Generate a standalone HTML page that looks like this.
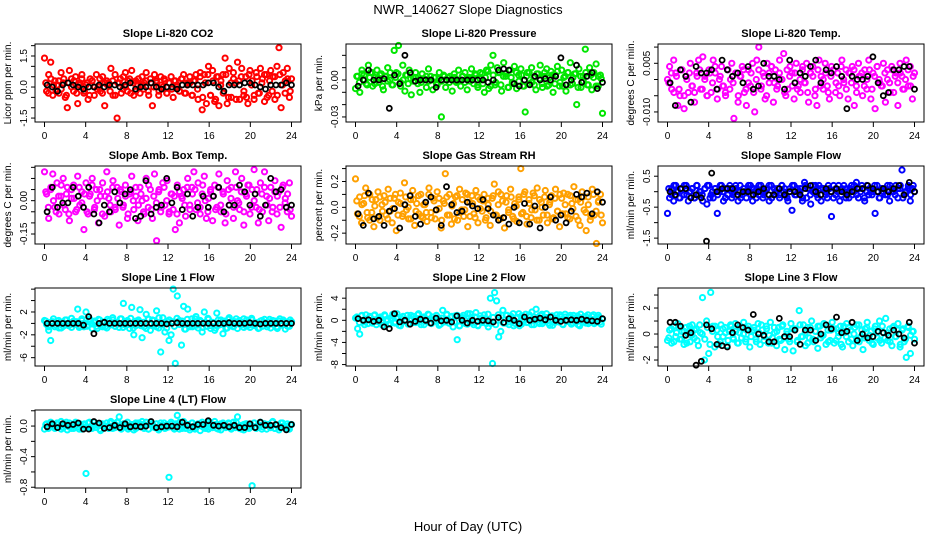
<!DOCTYPE html>
<html><head><meta charset="utf-8"><title>NWR_140627 Slope Diagnostics</title>
<style>
html,body{margin:0;padding:0;background:#fff;}
svg{display:block;font-family:"Liberation Sans",Arial,sans-serif;}
</style></head>
<body>
<svg id="chart" width="936" height="540" viewBox="0 0 936 540" xmlns="http://www.w3.org/2000/svg">
<rect x="0" y="0" width="936" height="540" fill="#fff"/>
<text x="468" y="14" text-anchor="middle" font-size="13">NWR_140627  Slope Diagnostics</text>
<text x="468" y="531" text-anchor="middle" font-size="13">Hour of Day (UTC)</text>
</svg>
<script>
const titles=["Slope Li-820 CO2","Slope Li-820 Pressure","Slope Li-820 Temp.","Slope Amb. Box Temp.","Slope Gas Stream RH","Slope Sample Flow","Slope Line 1 Flow","Slope Line 2 Flow","Slope Line 3 Flow","Slope Line 4 (LT) Flow"];
const yTitles=["Licor ppm per min.","kPa per min.","degrees C per min.","degrees C per min.","percent per min.","ml/min per min.","ml/min per min.","ml/min per min.","ml/min per min.","ml/min per min."];
const units=[0.1,0.001,0.001,0.01,0.01,0.1,0.1,0.1,0.1,0.01];
const yDomains=[[-1.69,2.08],[-0.0341,0.0292],[-0.0131,0.01095],[-0.195,0.156],[-0.284,0.32],[-1.69,0.83],[-7.46,6.2],[-8.26,5.84],[-2.46,3.54],[-0.81,0.21]];
const yTicks=[[-1.5,-1,-0.5,0,0.5,1,1.5,2],[-0.03,-0.02,-0.01,0,0.01,0.02],[-0.01,-0.005,0,0.005,0.01],[-0.15,-0.1,-0.05,0,0.05,0.1,0.15],[-0.2,-0.1,0,0.1,0.2,0.3],[-1.5,-1,-0.5,0,0.5],[-6,-4,-2,0,2,4,6],[-8,-6,-4,-2,0,2,4],[-2,-1,0,1,2,3],[-0.8,-0.6,-0.4,-0.2,0,0.2]];
const yLabels=[["-1.5","0.0","1.5"],["-0.03","0.00"],["-0.010","0.005"],["-0.15","0.00"],["-0.2","0.0","0.2"],["-1.5","-0.5","0.5"],["-6","-2","2"],["-8","-4","0","4"],["-2","0","2"],["-0.8","-0.4","0.0"]];
const yLabelVals=[[-1.5,0,1.5],[-0.03,0],[-0.01,0.005],[-0.15,0],[-0.2,0,0.2],[-1.5,-0.5,0.5],[-6,-2,2],[-8,-4,0,4],[-2,0,2],[-0.8,-0.4,0]];
const xTicks=[0,4,8,12,16,20,24];
const colors=["#ff0000","#00e600","#ff00ff","#ff00ff","#ffa000","#0000ff","#00ffff","#00ffff","#00ffff","#00ffff"];
const s0=[14,-2,6,12,-4,3,1,-3,7,2,-5,-10,8,4,-2,5,-8,2,6,-3,1,-6,4,3,-4,6,0,-2,5,-9,3,2,9,-4,6,-15,2,-3,5,7,-2,4,8,-4,3,1,-3,5,2,7,-2,4,-9,6,2,-4,5,0,3,-3,2,5,-5,3,1,-2,4,6,-3,2,5,-4,3,6,-6,7,-11,6,-8,10,-4,8,-7,5,-9,3,6,14,-8,9,-5,7,2,12,-6,9,-4,5,-8,8,3,-6,7,-3,9,4,-7,6,-4,8,5,-6,10,19,-10,7,3,9,-5,4];
const b0=[1,0,-2,1,2,1,0,-1,0,0,1,0,1,1,0,1,2,-1,0,0,2,0,-1,0,0,-1,1,1,1,1,1,2,2,0,-2,1,1,1,2,2,1,0,-1,1,1,1,2,1];
const c0=[2,-3,4,1,-2,3,-1,4,-4,2,0,3,-3,1,4,-2,2,-4,3,0,-1,4,-3,2,1,-2,3,-4,2,4,-1,0,3,-3,2,-2,4,1,-1,3,-4,2,0,3,-2,1,4,-3,2,-1,3,0,-2,4,-3,1,2,-4,3,-1,5,-5,2,6,-4,3,-6,5,1,-3,6,-5,2,4,-6,3,5,-2,-5,6,1,-4,5,-3,2,6,-5,3,-2,5,-4,6,1,-3,4,-2];
const s1=[-7,3,-10,8,4,-3,12,6,-5,2,8,-2,5,-8,3,10,0,-4,24,6,28,-5,12,-9,4,8,-12,2,6,-3,-10,5,1,-6,9,3,-8,2,-4,6,-30,4,-6,2,3,-9,5,-2,8,-5,3,6,-8,2,9,-3,4,-6,1,5,-10,8,-7,12,20,-4,10,6,-9,14,3,-6,8,-2,11,-7,4,9,-5,-26,6,-3,10,2,-8,5,12,-6,3,9,-4,7,-10,4,11,-5,8,2,-9,6,14,-3,5,-20,9,-6,3,25,-4,10,-8,6,13,-5,4,-27];
const b1=[-5,0,8,0,0,1,-23,4,-3,20,6,-1,0,0,0,-6,0,0,0,0,0,0,0,0,0,-2,0,8,9,8,-3,-5,0,-4,3,0,1,0,3,18,-4,0,12,-2,3,6,-7,-2];
const c1=[3,-2,5,0,-4,2,6,-3,1,4,-5,3,-1,6,-4,2,5,-2,0,4,-3,1,-1,2,0,-2,1,3,-1,0,2,-3,1,-1,3,0,-2,1,2,-1,0,3,-2,1,-1,2,5,-4,6,-3,2,7,-5,4,-2,6,-4,3,5,-6,2,-3,6,-1,4,-5,3,6,-2,-4,5,1,-3,6,-5,2,4,-3,7,-2,-5,3,6,-4,2,5,-6,3,-1,6,-4,4,2,-5,3,1];
const s2=[0,4,-3,6,2,-8,-5,3,-9,1,-4,5,-2,-7,2,6,-3,7,1,-5,3,-4,6,2,-6,0,4,-2,-5,3,-3,5,-12,2,-7,1,4,-4,-8,3,-2,5,-10,6,10,-3,2,-6,5,-1,4,-7,3,-2,6,0,8,-5,-3,4,2,-6,5,-2,-4,3,-1,5,-7,2,4,-5,-8,6,1,-3,5,-2,-6,4,3,-4,2,-5,6,-1,3,-6,2,4,-8,-2,5,1,-5,3,-3,6,-6,2,-9,4,0,-2,5,-7,3,-1,4,-4,2,-8,5,1,-3,6,-2,4,-6,2];
const b2=[-1,-8,3,1,-7,4,2,2,3,-3,6,3,1,2,-1,4,-3,-2,5,1,1,0,-3,6,-1,2,1,4,6,-1,3,2,4,1,-9,1,0,0,1,7,-1,-5,-4,3,3,4,4,-3];
const c2=[-1,2,-4,1,-3,3,-5,0,2,-2,-4,1,3,-3,0,-5,2,-1,4,-3,1,-2,-4,3,0,-1,2,-5,1,3,-3,-1,2,-4,0,3,-2,1,-5,2,4,-1,-3,2,0,-4,3,1,-2,2,-3,0,4,-1,-4,2,1,-3,3,-2,0,2,-4,1,3,-1,-2,4,0,-3,2,-1,3,-4,1,2,-2,0,3,-3,1,4,-1,-2,2,0,-4,3,1,-1,2,-3,0,3,-2,1];
const s3=[13,3,-8,5,12,-3,8,-6,2,10,-4,6,-9,1,7,-5,11,-2,4,-13,8,-6,3,10,-4,5,-10,2,8,-7,13,1,-5,9,-3,6,-11,4,-2,7,-8,3,11,-4,2,-9,6,0,-6,10,-3,5,-8,12,-18,4,-5,8,-2,9,-6,3,-4,-13,7,-10,2,5,-7,10,-2,6,13,-4,8,-6,3,11,-8,1,5,-9,7,-3,12,-5,4,-10,9,-2,6,-8,13,0,-4,10,-11,3,7,-6,5,14,-3,-10,8,-5,13,2,-9,6,-3,9,-6,4,-12,7,1,-5,8,-7];
const b3=[-5,6,-3,-1,-1,6,2,-3,6,-6,-10,-2,-5,4,-1,3,5,-8,-7,9,-6,-3,-2,10,-1,6,-4,3,-7,-3,2,-3,2,6,-5,-2,-2,7,4,-2,3,-7,-2,10,4,5,-3,-2];
const c3=[4,-3,6,0,-5,2,7,-2,3,-6,5,1,-4,6,-1,3,-5,2,7,-3,0,5,-6,2,4,-2,6,-4,1,5,-3,2,-6,4,0,6,-2,3,-5,1,7,-4,2,-1,5,-3,6,0,-5,3,2,-6,4,1,-2,6,-4,3,5,-1,-3,7,0,-5,4,2,-4,6,-2,3,-6,5,1,-3,6,-1,4,-5,2,7,-3,0,5,-4,3,6,-2,1,-5,4,2,-3,6,-1,3,-4];
const s4=[22,-5,8,-12,3,15,-8,10,-4,-15,6,12,-10,2,9,-6,14,-3,-12,7,-18,4,11,-7,19,-2,-9,6,13,-14,3,-5,10,-8,2,-11,15,-4,7,-9,12,-1,-16,5,26,-6,10,-13,3,8,-10,14,-2,-7,11,-15,4,9,-5,13,-12,6,-3,10,-8,2,-14,7,18,-6,12,-9,5,-16,9,-2,14,-7,3,-11,8,30,-4,12,-13,6,-8,11,-2,15,-10,4,-6,13,-12,2,9,-8,14,-3,-15,7,11,-5,10,-9,3,16,-7,6,-14,12,-2,-18,8,-10,14,-6,-28,4,10,-12];
const b4=[-5,-14,11,-9,-7,-14,-3,-1,-16,2,9,-7,-13,4,8,-2,-14,16,2,-4,-3,4,1,-1,6,-1,-6,-10,-8,-13,0,-12,3,-13,1,-16,0,8,-10,-6,-12,-3,10,8,11,-5,12,4];
const c4=[5,-7,2,9,-4,-10,6,1,-8,8,-3,4,-9,7,-1,10,-6,3,-5,8,0,-9,6,-3,9,-7,2,-4,10,-8,5,-2,7,-10,3,8,-6,1,-9,9,-4,6,-2,10,-7,3,-8,8,-1,5,-10,7,-3,9,-6,2,10,-8,4,-4,8,-9,1,6,-5,10,-7,3,-2,9,-10,6,0,8,-6,4,-9,7,-3,10,-5,2,-8,9,-1,6,-10,4,8,-4,2,-7,10,-3,5,-6];
const s5=[-7,-2,1,-3,2,0,-2,1,-1,2,-3,0,1,-2,2,-1,0,-3,1,-4,2,-1,-2,1,-7,0,2,-3,1,-1,2,-2,0,1,-3,2,-1,0,-2,1,2,-3,0,1,-1,2,-2,0,1,-3,2,-1,0,1,-2,2,0,-1,-3,1,-6,2,-1,0,1,-3,3,-2,1,-4,2,0,-1,2,-3,1,0,-2,1,-8,2,-1,0,-3,1,2,-2,0,1,-1,2,3,-2,0,1,-3,2,-1,1,0,-7,2,-2,1,0,-1,2,-3,1,0,2,-2,1,7,-1,0,2,-3,1,0];
const b5=[0,-1,1,1,-2,-1,-2,-16,6,0,1,1,1,-1,0,0,-1,0,1,-1,-1,1,-1,0,0,-1,1,2,0,-1,1,0,1,0,-1,0,1,1,2,1,0,1,0,1,2,-1,3,0];
const c5=[1,-1,2,0,-2,1,2,-1,0,1,-2,2,0,-1,1,2,-2,0,1,-1,2,0,-2,1,1,-1,2,0,-2,1,0,2,-1,1,-2,2,0,-1,1,2,-2,1,0,-1,2,1,-2,0,2,-1,1,0,-2,2,1,-1,0,2,-2,1,1,-1,2,0,-2,1,2,-1,0,1,-2,2,0,-1,1,2,-2,0,1,-1,2,0,-2,1,1,-1,2,0,-1,1,2,-2,0,1,-1,2];
const s6=[5,-2,-12,-30,3,-6,4,-8,2,-5,6,-3,1,-7,4,0,25,-4,8,-6,20,-3,5,-9,2,-5,7,-2,-6,3,-8,4,-1,6,-5,2,-7,8,35,-3,5,-9,28,-20,-4,3,24,-25,-6,16,8,-12,6,-3,22,-8,-50,10,-15,4,-30,-20,60,-70,48,5,-38,30,-10,25,-6,8,-4,12,-8,3,-15,20,-5,7,-9,2,-12,18,-3,6,-18,4,-8,10,-2,-6,3,-9,5,-2,8,-4,2,-7,6,-3,1,-9,4,-5,7,-2,3,-8,5,-1,-6,4,-3,6,-10,2,-5,3];
const b6=[0,0,0,0,0,0,0,-3,12,-18,0,2,0,0,0,0,0,0,0,0,0,0,0,-1,0,1,0,0,0,0,0,0,0,0,0,1,0,0,0,1,0,-1,0,0,0,0,0,0];
const c6=[4,-6,2,8,-3,5,-8,1,6,-4,9,-2,3,-7,5,0,-5,8,-1,4,-9,6,2,-6,7,-3,10,-5,1,8,-7,3,-2,9,-8,4,6,-4,2,-9,7,-1,5,-6,10,-3,1,-8,6,3,-5,9,-2,4,-10,7,0,-6,8,-3,5,-7,2,9,-4,1,-8,6,-2,4,-9,7,3,-5,8,-1,2,-7,6,-3,9,-4,1,-8,5,2,-6,7,-1,4,-9,8,-3,3,-5,6];
const s7=[4,-15,-25,8,-3,10,-6,5,-2,9,-8,3,6,-4,10,-1,-7,4,8,-5,12,-9,3,6,-2,9,-6,1,7,-4,10,-3,5,-8,2,11,-5,6,-2,9,4,-7,18,-3,10,-5,6,-12,8,-35,-10,3,9,-6,12,-2,5,-8,14,-10,3,-4,10,-6,-12,40,-78,50,35,-30,-20,18,-5,9,-8,3,12,-6,5,-10,8,-2,11,-4,6,15,-8,20,-3,9,-6,2,12,-5,7,-9,4,10,-3,6,-8,11,-2,5,-7,9,-4,8,-10,3,6,-5,10,-2,7,-6,4,9,-3,2];
const b7=[3,0,1,-2,0,-12,-15,12,-3,0,-7,-2,2,0,-5,4,-1,0,-3,8,0,-5,0,-2,0,-1,-3,5,-4,3,0,-6,6,0,2,4,1,6,0,-2,0,1,0,2,0,-1,-2,3];
const c7=[6,-4,9,-8,2,7,-5,10,-2,4,-9,8,0,-6,11,-3,5,-10,7,1,-7,9,-4,3,12,-8,6,-2,10,-6,2,8,-9,4,-1,11,-5,7,-3,9,-10,5,1,-7,12,-4,6,-9,8,-2,3,11,-6,5,-8,10,0,-5,9,-3,7,-10,4,12,-7,2,-4,10,-8,6,1,-6,11,-2,5,-9,8,-4,3,10,-7,6,-1,9,-5,4,-8,11,-3,7,-6,2,10,-4,5,-7];
const s8=[-5,3,-7,6,-2,8,-4,2,-8,5,0,-6,7,-3,4,-9,1,28,-20,10,-15,32,6,-10,3,-8,7,-2,5,-9,2,6,-4,8,-7,1,-3,9,-6,4,-10,2,5,-4,8,-8,3,-2,6,-7,9,-3,1,-9,5,-5,7,-12,2,-4,8,-13,4,-6,18,-2,7,-9,5,-3,10,-6,2,-11,6,-1,8,-8,3,-5,9,-7,4,-2,6,-10,1,8,-6,3,-9,5,-4,7,-2,-12,4,9,-5,2,-8,6,-3,10,-7,1,12,-5,4,-9,6,-2,8,-10,3,-6,-18,5,-15,2,-4];
const b8=[9,9,6,-1,1,-24,-21,7,4,-8,-9,-10,1,7,5,3,15,0,-1,-6,-6,12,-2,-2,3,-8,3,3,-5,0,7,4,13,1,2,9,-5,0,-3,-2,2,1,-1,3,0,-3,9,-7];
const c8=[-3,4,-6,1,5,-4,2,-7,6,-1,3,-5,7,0,-4,5,-8,2,6,-2,-6,4,1,-5,7,-3,2,-7,5,0,-4,6,-2,3,-6,1,7,-5,4,-1,-7,5,2,-4,6,-3,0,-6,4,3,-5,7,-2,1,-7,5,-4,2,6,-3,-1,7,-6,3,4,-5,1,-8,6,-2,5,-4,0,7,-6,3,-3,5,-1,-7,4,2,-5,6,-3,1,-6,5,-2,3,-8,4,-4,6,-1,2];
const s9=[-4,3,-2,5,1,-3,4,-1,6,-2,2,-5,4,0,-3,5,-1,3,-4,2,-62,4,-3,1,5,-2,3,-6,2,-1,4,-3,6,0,-2,5,12,-4,3,-1,5,-2,2,-5,4,-1,3,6,-3,1,-4,5,0,-2,3,-5,4,1,-3,2,-67,5,-2,3,14,-4,1,6,-3,2,-5,4,0,-2,3,-6,5,-1,2,-4,3,-2,6,-3,1,-5,4,0,-1,3,-4,5,-2,12,-3,1,-5,3,0,-2,-78,4,-3,2,5,-1,3,-4,2,-2,6,-3,1,-5,4,0,-2,3,-4,2];
const b9=[-1,3,-2,3,1,2,4,-4,-4,6,4,-3,-2,1,-2,3,-1,0,-1,0,6,-2,-1,0,0,-1,5,1,-1,2,2,7,1,0,1,-1,1,-2,-2,3,-2,5,1,1,2,-2,-5,2];
const c9=[2,-3,4,0,-2,3,-4,1,5,-1,-3,2,4,-4,0,3,-2,5,-3,1,2,-4,3,0,-1,4,-3,2,5,-2,0,3,-4,1,2,-3,4,-1,-2,5,-4,2,0,3,-3,1,4,-2,-1,3,-4,2,5,-3,0,2,-2,4,-4,1,3,-1,-3,5,-2,0,2,-4,3,1,-2,4,-3,0,5,-1,-4,2,3,-3,1,4,-2,0,-4,3,2,-1,5,-3,1,-2,4,0,-3,2];
const seriesColored=[s0,s1,s2,s3,s4,s5,s6,s7,s8,s9];
const seriesCore=[c0,c1,c2,c3,c4,c5,c6,c7,c8,c9];
const seriesBlack=[b0,b1,b2,b3,b4,b5,b6,b7,b8,b9];

const NS="http://www.w3.org/2000/svg";
const svg=document.getElementById('chart');
const colLeft=[35,346,658], boxW=266, boxH=78, rowTop=44, rowStep=122;
function mk(tag,attrs,parent){const e=document.createElementNS(NS,tag);for(const k in attrs)e.setAttribute(k,attrs[k]);(parent||svg).appendChild(e);return e;}
const defs=mk('defs',{});
for(let p=0;p<10;p++){
  const L=colLeft[p%3], T=rowTop+rowStep*Math.floor(p/3);
  const cp=mk('clipPath',{id:'clip'+p},defs);
  mk('rect',{x:L-3,y:T-3,width:boxW+6,height:boxH+6},cp);
  const g=mk('g',{});
  
  
  const xs=h=>L+9.5+h*(boxW-19)/24;
  const [y0,y1]=yDomains[p];
  const ys=v=>T+boxH-(v-y0)/(y1-y0)*boxH;
  const t=mk('text',{x:L+boxW/2,y:T-7,'text-anchor':'middle','font-size':'11','font-weight':'bold'},g);
  t.textContent=titles[p];
  
  
  const pts=mk('g',{'clip-path':`url(#clip${p})`},g);
  
  
  const cg=mk('g',{fill:'none',stroke:colors[p],'stroke-width':'2'},pts);
  
  
  const cc=seriesCore[p], k=cc.length;
  cc.forEach((v,i)=>{const c=mk('circle',{cx:xs((i+0.5)*24/k).toFixed(1),cy:ys(v*units[p]).toFixed(1),r:'2.6'},cg);
    
    });
  const cs=seriesColored[p], n=cs.length;
  cs.forEach((v,i)=>{const c=mk('circle',{cx:xs(i*24/(n-1)).toFixed(1),cy:ys(v*units[p]).toFixed(1),r:'2.6'},cg);
    
    });
  const bs=seriesBlack[p], m=bs.length;
  const bg=mk('g',{fill:'none',stroke:'#000','stroke-width':'1.8'},pts);
  
  
  bs.forEach((v,i)=>{const c=mk('circle',{cx:xs(0.25+i*23.75/(m-1)).toFixed(1),cy:ys(v*units[p]).toFixed(1),r:'2.5'},bg);
    
    });
  const box=mk('rect',{x:L,y:T,width:boxW,height:boxH,fill:'none',stroke:'#000','stroke-width':'1'},g);
  
  
  const B=T+boxH;
  mk('line',{x1:xs(0),x2:xs(24),y1:B,y2:B,stroke:'#000'},g);
  xTicks.forEach(h=>{mk('line',{x1:xs(h),x2:xs(h),y1:B,y2:B+5,stroke:'#000'},g);
    const tx=mk('text',{x:xs(h),y:B+17,'text-anchor':'middle','font-size':'10'},g);
    tx.textContent=String(h);
    
    });
  const yt=yTicks[p].filter(v=>v>=y0&&v<=y1);
  mk('line',{x1:L,x2:L,y1:ys(yt[0]),y2:ys(yt[yt.length-1]),stroke:'#000'},g);
  yt.forEach(v=>mk('line',{x1:L-4,x2:L,y1:ys(v),y2:ys(v),stroke:'#000'},g));
  yLabels[p].forEach((lab,j)=>{const yy=ys(yLabelVals[p][j]);
    const tx=mk('text',{x:L-8,y:yy,'text-anchor':'middle','font-size':'10',transform:`rotate(-90 ${L-8} ${yy})`},g);
    tx.textContent=lab;
    
    });
  const yc=T+boxH/2;
  const yl=mk('text',{x:L-24,y:yc,'text-anchor':'middle','font-size':'10',transform:`rotate(-90 ${L-24} ${yc})`},g);
  yl.textContent=yTitles[p];
  
  
}
</script>
</body></html>
